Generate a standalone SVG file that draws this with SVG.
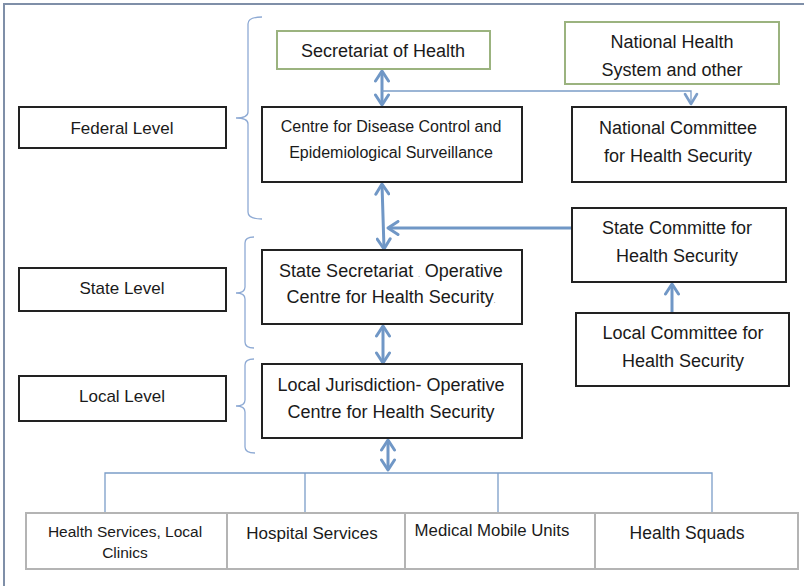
<svg xmlns="http://www.w3.org/2000/svg" width="804" height="586" viewBox="0 0 804 586">
<style>
.bg{fill:#ffffff}
.frame{fill:none;stroke:#7f8fa8;stroke-width:2}
.box{fill:#ffffff;stroke:#222222;stroke-width:2}
.gbox{fill:#ffffff;stroke:#9bb37f;stroke-width:2}
.sbox{fill:#ffffff;stroke:#b4b4b4;stroke-width:2}
.brace{fill:none;stroke:#8eaad4;stroke-width:1.3}
.thick{fill:none;stroke:#7097c6;stroke-width:3}
.thin{fill:none;stroke:#7b9dc8;stroke-width:1.3}
text{font-family:"Liberation Sans",Arial,sans-serif;fill:#1a1a1a;text-anchor:middle}
.t18{font-size:18px}
.t17{font-size:17px}
.t16{font-size:16px}
.t15{font-size:15.5px}
</style>
<defs>
<marker id="chev" viewBox="-12 -8 14 16" refX="0" refY="0" markerWidth="14" markerHeight="16" markerUnits="userSpaceOnUse" orient="auto-start-reverse">
<path d="M-10,-6.5 L0,0 L-10,6.5" fill="none" stroke="#7097c6" stroke-width="3" stroke-linecap="round" stroke-linejoin="round"/>
</marker>
<marker id="chevs" viewBox="-12 -8 14 16" refX="0" refY="0" markerWidth="14" markerHeight="16" markerUnits="userSpaceOnUse" orient="auto">
<path d="M-10,-6 L0,0 L-10,6" fill="none" stroke="#7b9dc8" stroke-width="2.6" stroke-linecap="round" stroke-linejoin="round"/>
</marker>
</defs>
<rect class="bg" x="0" y="0" width="804" height="586"/>
<path class="frame" d="M4,586 L4,4 L804,4"/>

<g id="braces">
<path class="brace" d="M262,17 Q248,17 248,24 L248,112 Q248,118 236,118 Q248,118 248,124 L248,212 Q248,219 262,219"/>
<path class="brace" d="M254,237 Q245,237 245,243 L245,287 Q245,293 236,293 Q245,293 245,299 L245,342 Q245,348 254,348"/>
<path class="brace" d="M254,359 Q245,359 245,365 L245,400 Q245,406 236,406 Q245,406 245,412 L245,447 Q245,453 255,453"/>
</g>

<g id="connectors">
<path class="thick" d="M382,71 L382,105" marker-start="url(#chev)" marker-end="url(#chev)"/>
<path class="thin" d="M382,91 L691,91 L691,104" marker-end="url(#chevs)"/>
<path class="thick" d="M382,184 L384,249" marker-start="url(#chev)" marker-end="url(#chev)"/>
<path class="thick" d="M572,228 L388,228" marker-end="url(#chev)"/>
<path class="thick" d="M672,313 L672,284" marker-end="url(#chev)"/>
<path class="thick" d="M383,326 L383,363" marker-start="url(#chev)" marker-end="url(#chev)"/>
<path class="thick" d="M388,440 L388,470" marker-start="url(#chev)" marker-end="url(#chev)"/>
<path class="thin" d="M105,513 L105,473 L712,473 L712,513 M305,473 L305,513 M498,473 L498,513"/>
</g>

<g id="federal-level"><rect class="box" x="19" y="107" width="207" height="41"/><text class="t17" x="122" y="134">Federal Level</text></g>
<g id="state-level"><rect class="box" x="19" y="268" width="207" height="43"/><text class="t17" x="122" y="294">State Level</text></g>
<g id="local-level"><rect class="box" x="19" y="376" width="207" height="45"/><text class="t17" x="122" y="402">Local Level</text></g>

<g id="secretariat-health"><rect class="gbox" x="277" y="31" width="213" height="38"/><text class="t18" x="383" y="57">Secretariat of Health</text></g>
<g id="national-health-system"><rect class="gbox" x="565" y="22" width="214" height="62"/><text class="t18" x="672" y="48">National Health</text><text class="t18" x="672" y="76">System and other</text></g>

<g id="cdc"><rect class="box" x="262" y="107" width="260" height="75"/><text class="t16" x="391" y="132">Centre for Disease Control and</text><text class="t16" x="391" y="158">Epidemiological Surveillance</text></g>
<g id="national-committee"><rect class="box" x="572" y="107" width="214" height="75"/><text class="t18" x="678" y="134">National Committee</text><text class="t18" x="678" y="162">for Health Security</text></g>

<g id="state-secretariat"><rect class="box" x="262" y="250" width="260" height="74"/><text class="t18" x="391" y="277">State Secretariat <tspan font-size="6">.</tspan> Operative</text><text class="t18" x="391" y="303">Centre for Health Security<tspan font-size="6">.</tspan></text></g>
<g id="state-committee"><rect class="box" x="572" y="208" width="214" height="74"/><text class="t18" x="677" y="234">State Committe for</text><text class="t18" x="677" y="262">Health Security</text></g>
<g id="local-committee"><rect class="box" x="576" y="313" width="213" height="73"/><text class="t18" x="683" y="339">Local Committee for</text><text class="t18" x="683" y="367">Health Security</text></g>

<g id="local-jurisdiction"><rect class="box" x="262" y="364" width="260" height="74"/><text class="t18" x="391" y="391">Local Jurisdiction- Operative</text><text class="t18" x="391" y="418">Centre for Health Security</text></g>

<g id="health-services"><rect class="sbox" x="26" y="513" width="201" height="56"/><text class="t15" x="125" y="537">Health Services, Local</text><text class="t15" x="125" y="558">Clinics</text></g>
<g id="hospital-services"><rect class="sbox" x="227" y="513" width="178" height="56"/><text class="t17" x="312" y="539">Hospital Services</text></g>
<g id="medical-mobile-units"><rect class="sbox" x="405" y="513" width="190" height="56"/><text font-size="16.8" x="492" y="536">Medical Mobile Units</text></g>
<g id="health-squads"><rect class="sbox" x="595" y="513" width="203" height="56"/><text font-size="17.5" x="687" y="539">Health Squads</text></g>
</svg>
